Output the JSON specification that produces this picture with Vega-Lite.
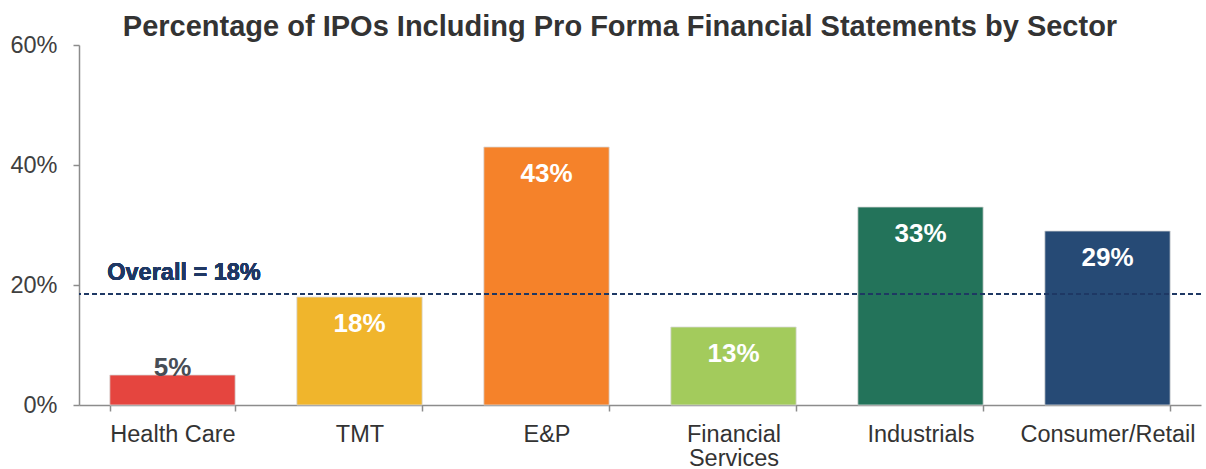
{
  "$schema": "https://vega.github.io/schema/vega-lite/v6.json",
  "width": 1122,
  "height": 360,
  "autosize": {"type": "none"},
  "padding": {"left": 79, "top": 45, "right": 5, "bottom": 64},
  "background": "white",
  "config": {"font": "Liberation Sans", "view": {"stroke": null}},
  "title": {
    "text": "Percentage of IPOs Including Pro Forma Financial Statements by Sector",
    "fontSize": 29,
    "fontWeight": "bold",
    "color": "#333333",
    "frame": "group",
    "anchor": "middle",
    "baseline": "alphabetic",
    "offset": -32,
    "dx": -20
  },
  "data": {
    "values": [
      {"sector": "Health Care", "pct": 5},
      {"sector": "TMT", "pct": 18},
      {"sector": "E&P", "pct": 43},
      {"sector": "Financial Services", "pct": 13},
      {"sector": "Industrials", "pct": 33},
      {"sector": "Consumer/Retail", "pct": 29}
    ]
  },
  "encoding": {
    "x": {
      "field": "sector",
      "type": "nominal",
      "sort": null,
      "scale": {"paddingInner": 0.33, "paddingOuter": 0.165},
      "axis": {
        "title": null,
        "labelAngle": 0,
        "labelFontSize": 23.5,
        "labelColor": "#333333",
        "labelPadding": 11,
        "labelLineHeight": 24,
        "labelExpr": "datum.value == 'Financial Services' ? ['Financial', 'Services'] : datum.value",
        "tickBand": "extent",
        "tickSize": 6,
        "tickColor": "#8c8c8c",
        "tickWidth": 1.5,
        "domainColor": "#8c8c8c",
        "domainWidth": 1.5
      }
    },
    "y": {
      "field": "pct",
      "type": "quantitative",
      "scale": {"domain": [0, 60], "nice": false},
      "axis": {
        "title": null,
        "values": [0, 20, 40, 60],
        "labelExpr": "datum.value + '%'",
        "labelFontSize": 23.5,
        "labelColor": "#404040",
        "labelPadding": 16,
        "grid": false,
        "tickSize": 6,
        "tickColor": "#8c8c8c",
        "tickWidth": 1.5,
        "domainColor": "#8c8c8c",
        "domainWidth": 1.5
      }
    }
  },
  "layer": [
    {
      "mark": {"type": "bar", "stroke": "#d8d8d8", "strokeWidth": 0.8},
      "encoding": {
        "color": {
          "field": "sector",
          "type": "nominal",
          "legend": null,
          "scale": {
            "domain": ["Health Care", "TMT", "E&P", "Financial Services", "Industrials", "Consumer/Retail"],
            "range": ["#e5453f", "#f0b52c", "#f5822a", "#a3cb5c", "#23735a", "#264a75"]
          }
        }
      }
    },
    {
      "mark": {"type": "rule", "strokeDash": [5, 3], "strokeWidth": 1.5, "color": "#1f3864"},
      "encoding": {"y": {"datum": 18.5}, "x": null}
    },
    {
      "mark": {"type": "text", "text": "Overall = 18%", "fontSize": 23.5, "fontWeight": "bold", "color": "#1f3864", "align": "center", "baseline": "alphabetic", "dy": -14, "dx": 11.5},
      "encoding": {"y": {"datum": 18.5}, "x": {"datum": "Health Care"}}
    },
    {
      "transform": [{"filter": "datum.pct >= 10"}],
      "mark": {"type": "text", "fontSize": 26, "fontWeight": "bold", "color": "white", "baseline": "top", "dy": 14, "text": {"expr": "datum.pct + '%'"}},
      "encoding": {}
    },
    {
      "transform": [{"filter": "datum.pct < 10"}],
      "mark": {"type": "text", "fontSize": 26, "fontWeight": "bold", "color": "#474d55", "baseline": "alphabetic", "dy": 1, "text": {"expr": "datum.pct + '%'"}},
      "encoding": {}
    }
  ]
}
